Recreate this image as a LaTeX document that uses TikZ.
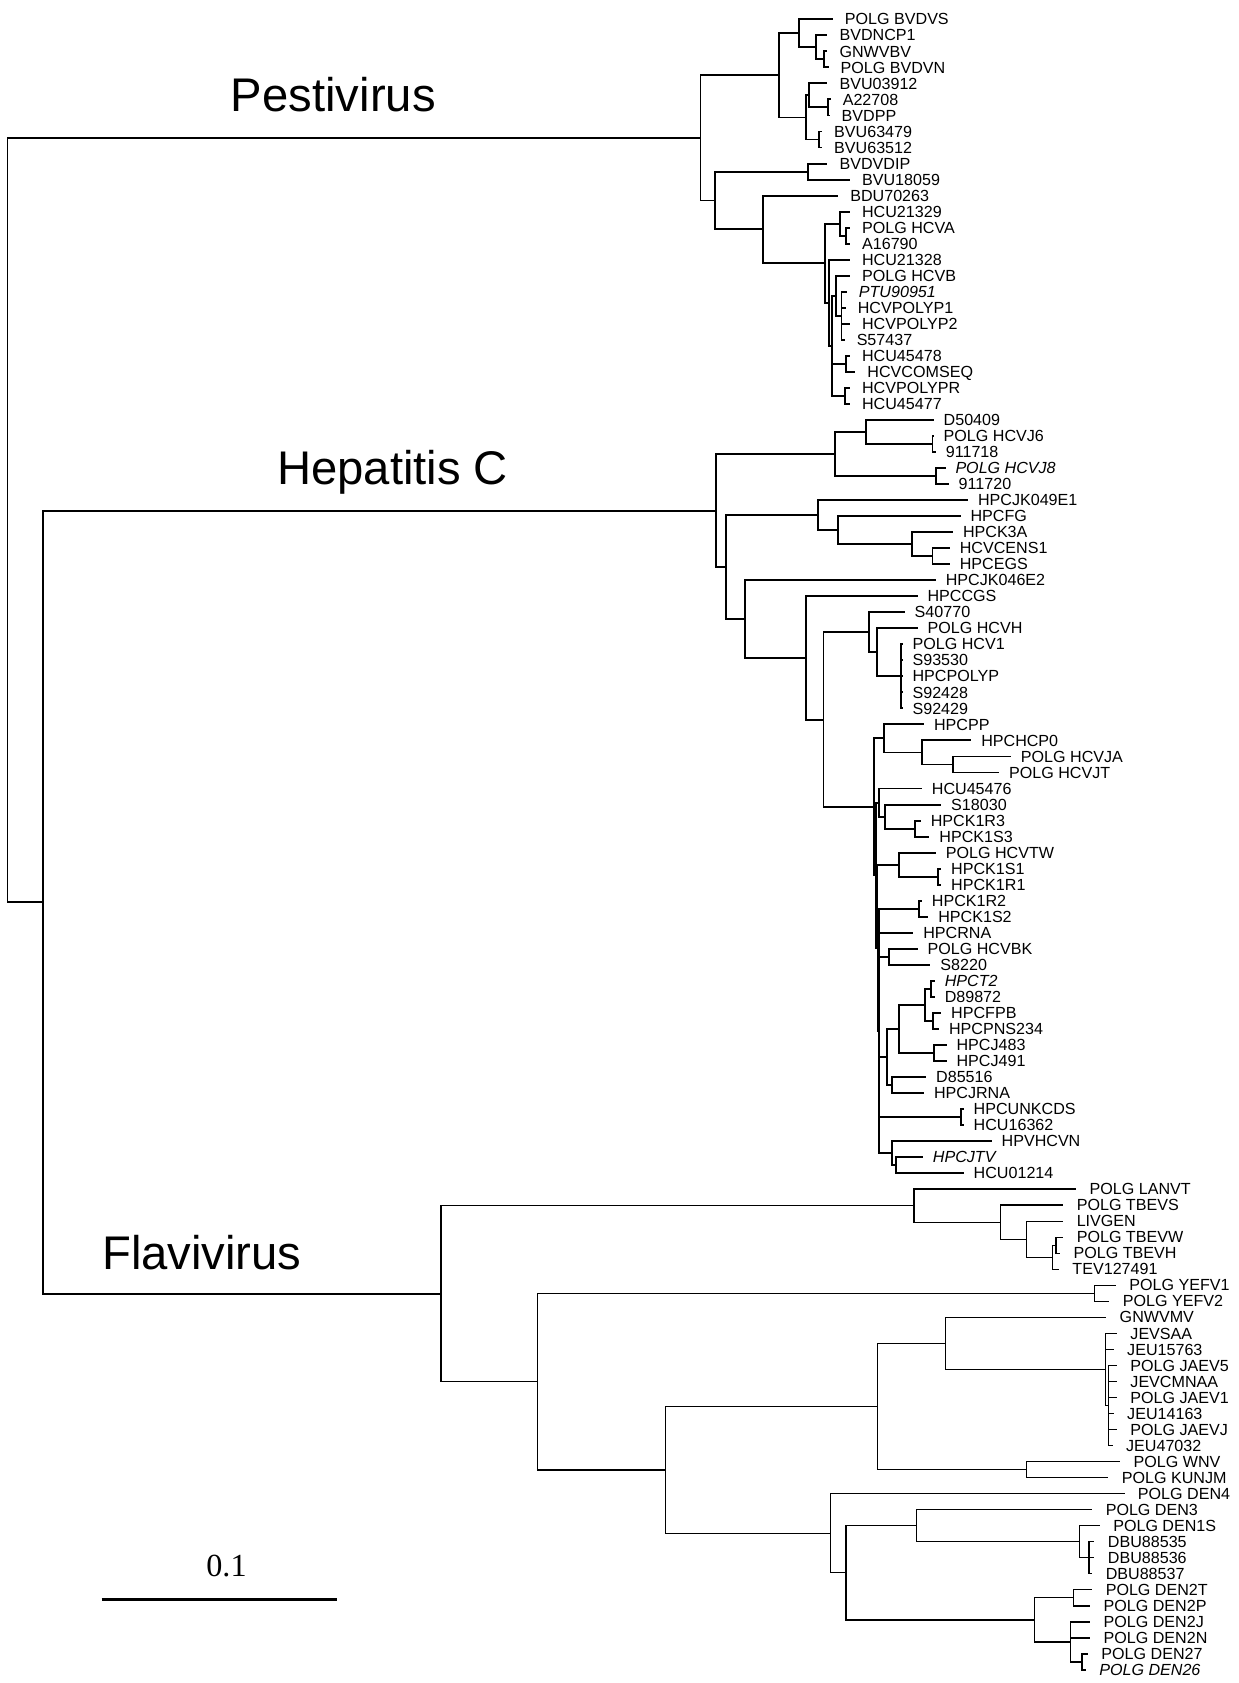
\documentclass[tikz,border=0pt]{standalone}
\usepackage{fontspec}
\setmainfont{Liberation Sans}
\newfontfamily\serifnum{Liberation Serif}
\usetikzlibrary{calc}
\newdimen\cyd
\newcommand\gapv{8}
% leaf: [style] index, text x, label
\newcommand\lf[4][]{%
  \pgfmathsetmacro\yy{-(18+14.93*(#2-1))}%
  \pgfmathsetmacro\xx{#3-\gapv}%
  \node[lab,#1] (t#2) at (#3pt,\yy pt) {#4};%
  \coordinate (n#2) at (\xx pt,\yy pt);%
}
% clade: name, x, children
\newcommand\cl[3]{%
  \gdef\cymin{10000}\gdef\cymax{-10000}%
  \foreach \ch in {#3}{%
    \pgfextracty{\cyd}{\pgfpointanchor{\ch}{center}}%
    \pgfmathsetmacro\tmpa{min(\cymin,\cyd)}\xdef\cymin{\tmpa}%
    \pgfmathsetmacro\tmpb{max(\cymax,\cyd)}\xdef\cymax{\tmpb}%
  }%
  \pgfmathsetmacro\cymid{(\cymin+\cymax)/2}%
  \coordinate (#1) at (#2pt,\cymid pt);%
  \draw[br] (#2pt,\cymin pt) -- (#2pt,\cymax pt);%
  \foreach \ch in {#3}{\draw[br] (#1 |- \ch) -- (\ch);}%
}
\begin{document}
\begin{tikzpicture}[x=1pt,y=1pt,line cap=rect,
  lab/.style={anchor=west,inner sep=0pt,font=\fontsize{15}{15}\selectfont,text height=10.5pt,text depth=0pt},
  big/.style={anchor=base west,inner sep=0pt,font=\fontsize{44}{44}\selectfont},
  br/.style={line width=1.8pt}]
\useasboundingbox (0,0) rectangle (1154,-1568);
% ---------- Pestivirus leaves
\renewcommand\gapv{12}
\lf{1}{787}{POLG BVDVS}
\lf{2}{782}{BVDNCP1}
\lf{3}{782}{GNWVBV}
\lf{4}{783}{POLG BVDVN}
\lf{5}{782}{BVU03912}
\lf{6}{785}{A22708}
\lf{7}{784}{BVDPP}
\lf{8}{777}{BVU63479}
\lf{9}{777}{BVU63512}
\lf{10}{782}{BVDVDIP}
\lf{11}{803}{BVU18059}
\lf{12}{792}{BDU70263}
\lf{13}{803}{HCU21329}
\lf{14}{803}{POLG HCVA}
\lf{15}{803}{A16790}
\lf{16}{803}{HCU21328}
\lf{17}{803}{POLG HCVB}
\lf{18}{800}{\itshape PTU90951}
\lf{19}{799}{HCVPOLYP1}
\lf{20}{803}{HCVPOLYP2}
\lf{21}{798}{S57437}
\lf{22}{803}{HCU45478}
\lf{23}{808}{HCVCOMSEQ}
\lf{24}{803}{HCVPOLYPR}
\lf{25}{803}{HCU45477}
\cl{P4}{767.5}{n3,n4}
\cl{P3}{760.6}{n2,P4}
\cl{P2}{744.5}{n1,P3}
\cl{P7}{771}{n6,n7}
\cl{P6}{753.5}{n5,P7}
\cl{P8}{763}{n8,n9}
\cl{P5}{751.3}{P6,P8}
\cl{P1}{725.8}{P2,P5}
\cl{P10}{752.9}{n10,n11}
\cl{P13b}{788}{n14,n15}
\cl{P13}{783}{n13,P13b}
\cl{P16b}{784}{n18,n19,n20,n21}
\cl{P16}{779}{n17,P16b}
\cl{P17}{788}{n22,n23}
\cl{P18}{787}{n24,n25}
\cl{P15}{775}{P16,P17,P18}
\cl{P14}{772}{n16,P15}
\cl{P12}{769}{P13,P14}
\cl{P11}{711}{n12,P12}
\cl{P9}{666}{P10,P11}
\cl{P0}{652.6}{P1,P9}
% ---------- Hepatitis C leaves
\renewcommand\gapv{10}
\lf{26}{879}{D50409}
\lf{27}{879}{POLG HCVJ6}
\lf{28}{881}{911718}
\lf{29}{890}{\itshape POLG HCVJ8}
\lf{30}{893}{911720}
\lf{31}{911}{HPCJK049E1}
\lf{32}{904}{HPCFG}
\lf{33}{897}{HPCK3A}
\lf{34}{894}{HCVCENS1}
\lf{35}{894}{HPCEGS}
\lf{36}{881}{HPCJK046E2}
\lf{37}{864}{HPCCGS}
\lf{38}{852}{S40770}
\lf{39}{864}{POLG HCVH}
\lf{40}{850}{POLG HCV1}
\lf{41}{850}{S93530}
\lf{42}{850}{HPCPOLYP}
\lf{43}{850}{S92428}
\lf{44}{850}{S92429}
\lf{45}{870}{HPCPP}
\lf{46}{914}{HPCHCP0}
\lf{47}{951}{POLG HCVJA}
\lf{48}{940}{POLG HCVJT}
\lf{49}{868}{HCU45476}
\lf{50}{886}{S18030}
\lf{51}{867}{HPCK1R3}
\lf{52}{875}{HPCK1S3}
\lf{53}{881}{POLG HCVTW}
\lf{54}{886}{HPCK1S1}
\lf{55}{886}{HPCK1R1}
\lf{56}{868}{HPCK1R2}
\lf{57}{874}{HPCK1S2}
\lf{58}{860}{HPCRNA}
\lf{59}{864}{POLG HCVBK}
\lf{60}{876}{S8220}
\lf{61}{880}{\itshape HPCT2}
\lf{62}{880}{D89872}
\lf{63}{886}{HPCFPB}
\lf{64}{884}{HPCPNS234}
\lf{65}{891}{HPCJ483}
\lf{66}{891}{HPCJ491}
\lf{67}{872}{D85516}
\lf{68}{870}{HPCJRNA}
\lf{69}{907}{HPCUNKCDS}
\lf{70}{907}{HCU16362}
\lf{71}{933}{HPVHCVN}
\lf{72}{869}{\itshape HPCJTV}
\lf{73}{907}{HCU01214}
\cl{H3}{868.8}{n27,n28}
\cl{H2}{806.4}{n26,H3}
\cl{H4}{872.3}{n29,n30}
\cl{H1}{777.9}{H2,H4}
\cl{H10}{868.8}{n34,n35}
\cl{H9}{849.8}{n33,H10}
\cl{H8}{780.7}{n32,H9}
\cl{H6}{761.8}{n31,H8}
\cl{H15}{839}{n40,n41,n42,n43,n44}
\cl{H14}{817.1}{n39,H15}
\cl{H13}{810}{n38,H14}
\cl{H19}{887.6}{n47,n48}
\cl{H18}{859.1}{n46,H19}
\cl{H17}{823.5}{n45,H18}
\cl{H22}{852.7}{n51,n52}
\cl{H21}{824.2}{n50,H22}
\cl{H20}{818.8}{n49,H21}
\cl{H24}{874}{n54,n55}
\cl{H23}{837.7}{n53,H24}
\cl{H25}{856}{n56,n57}
\cl{H26}{828.5}{n59,n60}
\cl{H29a}{867}{n61,n62}
\cl{H29b}{869}{n63,n64}
\cl{H29}{862}{H29a,H29b}
\cl{H30}{870.5}{n65,n66}
\cl{H28}{837.7}{H29,H30}
\cl{H31}{831.3}{n67,n68}
\cl{H27}{826}{H28,H31}
\cl{H32}{895}{n69,n70}
\cl{H34}{834.9}{n72,n73}
\cl{H33}{831.3}{n71,H34}
\cl{H16d}{819}{H25,n58,H26,H27,H32,H33}
\cl{H16c}{817.5}{H23,H16d}
\cl{H16b}{816}{H20,H16c}
\cl{H16}{814.2}{H17,H16b}
\cl{H12}{767.2}{H13,H16}
\cl{H11}{751.1}{n37,H12}
\cl{H7}{694.1}{n36,H11}
\cl{H5}{676.3}{H6,H7}
\cl{H0}{667.4}{H1,H5}
% ---------- Flavivirus leaves
\renewcommand\gapv{13}
\tikzset{br/.style={line width=1.3pt}}
\lf{74}{1015}{POLG LANVT}
\lf{75}{1003}{POLG TBEVS}
\lf{76}{1003}{LIVGEN}
\lf{77}{1003}{POLG TBEVW}
\lf{78}{1000}{POLG TBEVH}
\lf{79}{999}{TEV127491}
\lf{80}{1052}{POLG YEFV1}
\lf{81}{1046}{POLG YEFV2}
\lf{82}{1043}{GNWVMV}
\lf{83}{1053}{JEVSAA}
\lf{84}{1050}{JEU15763}
\lf{85}{1053}{POLG JAEV5}
\lf{86}{1053}{JEVCMNAA}
\lf{87}{1053}{POLG JAEV1}
\lf{88}{1050}{JEU14163}
\lf{89}{1053}{POLG JAEVJ}
\lf{90}{1049}{JEU47032}
\lf{91}{1056}{POLG WNV}
\lf{92}{1045}{POLG KUNJM}
\lf{93}{1060}{POLG DEN4}
\lf{94}{1030}{POLG DEN3}
\lf{95}{1037}{POLG DEN1S}
\lf{96}{1032}{DBU88535}
\lf{97}{1032}{DBU88536}
\lf{98}{1030}{DBU88537}
\lf{99}{1030}{POLG DEN2T}
\lf{100}{1028}{POLG DEN2P}
\lf{101}{1028}{POLG DEN2J}
\lf{102}{1028}{POLG DEN2N}
\lf{103}{1026}{POLG DEN27}
\lf{104}{1024}{\itshape POLG DEN26}
\cl{F4b}{984}{n77,n78}
\cl{F4}{980.6}{F4b,n79}
\cl{F3}{956.2}{n76,F4}
\cl{F2}{931.9}{n75,F3}
\cl{F1}{851.5}{n74,F2}
\cl{F6}{1019.6}{n80,n81}
\cl{F10b}{1033}{n85,n86,n87,n88,n89,n90}
\cl{F10}{1030}{n83,n84,F10b}
\cl{F9}{880.7}{n82,F10}
\cl{F11}{956.3}{n91,n92}
\cl{F8}{817.4}{F9,F11}
\cl{F16}{1014.7}{n96,n97,n98}
\cl{F15}{1006}{n95,F16}
\cl{F14}{854}{n94,F15}
\cl{F18}{1000.1}{n99,n100}
\cl{F20}{1008}{n103,n104}
\cl{F19}{997.6}{n101,n102,F20}
\cl{F17}{963.6}{F18,F19}
\cl{F13}{788.2}{F14,F17}
\cl{F12}{773.6}{n93,F13}
\cl{F7}{620.1}{F8,F12}
\cl{F5}{500.8}{F6,F7}
\cl{F0}{410.7}{F1,F5}
% ---------- root
\tikzset{br/.style={line width=1.8pt}}
\cl{HF}{40}{H0,F0}
\cl{R}{7}{P0,HF}
% ---------- group labels
\node[big] (lpest) at (215,-104) {Pestivirus};
\node[big] (lhcv) at (258,-451) {Hepatitis C};
\node[big] (lflav) at (95,-1183) {Flavivirus};
% ---------- scale bar
\node[inner sep=0pt,font=\fontsize{30}{30}\selectfont\serifnum] (sbl) at (211,-1459) {0.1};
\coordinate (sbA) at (94.7,-1490);
\coordinate (sbB) at (313.6,-1490);
\draw[line width=2.5pt,line cap=butt] (sbA) -- (sbB);
\end{tikzpicture}
\end{document}
